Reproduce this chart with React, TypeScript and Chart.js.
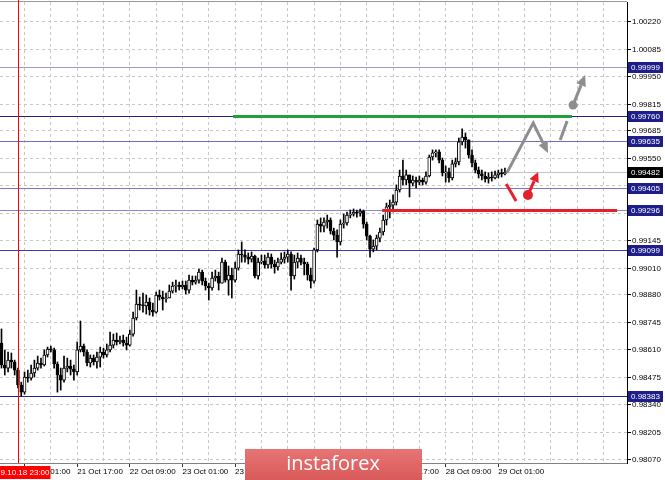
import React, { useEffect, useRef } from 'react';
import { Chart, registerables } from 'chart.js';

Chart.register(...registerables);

// ---- data (hourly bars, index 0 = first visible bar) ----
const firstOpen = 0.98644;
const closes = [
  0.98536, 0.98521, 0.98560, 0.98551, 0.98511, 0.98438, 0.98403, 0.98477, 0.98472, 0.98497,
  0.98521, 0.98546, 0.98536, 0.98585, 0.98614, 0.98610, 0.98541, 0.98487, 0.98462, 0.98521,
  0.98531, 0.98516, 0.98502, 0.98610, 0.98629, 0.98600, 0.98546, 0.98570, 0.98551, 0.98575,
  0.98600, 0.98585, 0.98610, 0.98634, 0.98659, 0.98649, 0.98659, 0.98644, 0.98634, 0.98688,
  0.98767, 0.98835, 0.98830, 0.98826, 0.98845, 0.98806, 0.98796, 0.98879, 0.98870, 0.98860,
  0.98865, 0.98899, 0.98924, 0.98929, 0.98919, 0.98929, 0.98904, 0.98953, 0.98943, 0.98953,
  0.98992, 0.98948, 0.98924, 0.98914, 0.98963, 0.98973, 0.98938, 0.99041, 0.98953, 0.98978,
  0.98953, 0.99012, 0.99081, 0.99076, 0.99066, 0.99056, 0.99071, 0.98973, 0.99041, 0.99046,
  0.99027, 0.99066, 0.99032, 0.99017, 0.99041, 0.99056, 0.99066, 0.99081, 0.98973, 0.99041,
  0.99061, 0.99041, 0.99032, 0.98978, 0.98948, 0.99101, 0.99228, 0.99218, 0.99238, 0.99248,
  0.99194, 0.99174, 0.99140, 0.99228, 0.99233, 0.99272, 0.99277, 0.99287, 0.99282, 0.99292,
  0.99228, 0.99169, 0.99105, 0.99120, 0.99159, 0.99189, 0.99248, 0.99312, 0.99321, 0.99336,
  0.99395, 0.99464, 0.99444, 0.99469, 0.99429, 0.99444, 0.99434, 0.99444, 0.99434, 0.99464,
  0.99557, 0.99577, 0.99582, 0.99542, 0.99479, 0.99484, 0.99454, 0.99523, 0.99533, 0.99631,
  0.99655, 0.99641, 0.99567, 0.99528, 0.99493, 0.99474, 0.99464, 0.99449, 0.99459, 0.99454,
  0.99469, 0.99479, 0.99474, 0.99482,
];
const highs = [
  0.98713, 0.98610, 0.98600, 0.98595, 0.98560, 0.98521, 0.98452, 0.98502, 0.98511, 0.98536,
  0.98560, 0.98580, 0.98570, 0.98610, 0.98624, 0.98629, 0.98619, 0.98551, 0.98521, 0.98580,
  0.98570, 0.98560, 0.98536, 0.98649, 0.98752, 0.98639, 0.98610, 0.98585, 0.98585, 0.98600,
  0.98624, 0.98619, 0.98639, 0.98698, 0.98688, 0.98693, 0.98678, 0.98683, 0.98673, 0.98708,
  0.98796, 0.98904, 0.98870, 0.98889, 0.98879, 0.98865, 0.98840, 0.98894, 0.98904, 0.98899,
  0.98889, 0.98929, 0.98943, 0.98953, 0.98943, 0.98948, 0.98948, 0.98978, 0.98973, 0.98973,
  0.99007, 0.99002, 0.98963, 0.98938, 0.98992, 0.99002, 0.98992, 0.99061, 0.99051, 0.99022,
  0.99012, 0.99041, 0.99101, 0.99140, 0.99101, 0.99086, 0.99091, 0.99076, 0.99061, 0.99076,
  0.99076, 0.99086, 0.99081, 0.99051, 0.99061, 0.99086, 0.99091, 0.99101, 0.99091, 0.99076,
  0.99086, 0.99076, 0.99061, 0.99041, 0.99012, 0.99110, 0.99248, 0.99258, 0.99258, 0.99272,
  0.99258, 0.99208, 0.99199, 0.99248, 0.99277, 0.99287, 0.99297, 0.99302, 0.99297, 0.99302,
  0.99297, 0.99238, 0.99174, 0.99150, 0.99174, 0.99208, 0.99272, 0.99331, 0.99346, 0.99371,
  0.99420, 0.99493, 0.99542, 0.99493, 0.99469, 0.99464, 0.99459, 0.99464, 0.99454, 0.99484,
  0.99567, 0.99592, 0.99592, 0.99592, 0.99552, 0.99513, 0.99503, 0.99542, 0.99552, 0.99650,
  0.99695, 0.99675, 0.99641, 0.99592, 0.99542, 0.99508, 0.99493, 0.99484, 0.99479, 0.99484,
  0.99488, 0.99493, 0.99498, 0.99503,
];
const lows = [
  0.98521, 0.98487, 0.98502, 0.98521, 0.98487, 0.98423, 0.98384, 0.98393, 0.98452, 0.98462,
  0.98477, 0.98511, 0.98521, 0.98531, 0.98575, 0.98600, 0.98521, 0.98403, 0.98413, 0.98452,
  0.98502, 0.98487, 0.98462, 0.98487, 0.98600, 0.98580, 0.98531, 0.98526, 0.98536, 0.98521,
  0.98526, 0.98570, 0.98575, 0.98600, 0.98619, 0.98634, 0.98639, 0.98629, 0.98610, 0.98629,
  0.98678, 0.98757, 0.98806, 0.98796, 0.98786, 0.98781, 0.98776, 0.98791, 0.98855, 0.98806,
  0.98845, 0.98865, 0.98889, 0.98894, 0.98904, 0.98909, 0.98884, 0.98889, 0.98929, 0.98933,
  0.98938, 0.98929, 0.98904, 0.98855, 0.98904, 0.98948, 0.98904, 0.98938, 0.98943, 0.98879,
  0.98865, 0.98943, 0.99002, 0.99041, 0.99041, 0.99032, 0.99041, 0.98963, 0.98958, 0.99032,
  0.99012, 0.99012, 0.99012, 0.98987, 0.99002, 0.99032, 0.99036, 0.99041, 0.98904, 0.98958,
  0.99012, 0.99027, 0.98978, 0.98953, 0.98914, 0.98938, 0.99091, 0.99189, 0.99189, 0.99208,
  0.99179, 0.99150, 0.99066, 0.99125, 0.99208, 0.99223, 0.99258, 0.99267, 0.99262, 0.99267,
  0.99208, 0.99150, 0.99066, 0.99091, 0.99101, 0.99140, 0.99174, 0.99223, 0.99258, 0.99287,
  0.99321, 0.99385, 0.99420, 0.99420, 0.99361, 0.99415, 0.99405, 0.99420, 0.99420, 0.99424,
  0.99459, 0.99542, 0.99557, 0.99528, 0.99464, 0.99434, 0.99434, 0.99444, 0.99508, 0.99518,
  0.99616, 0.99601, 0.99552, 0.99508, 0.99479, 0.99454, 0.99444, 0.99434, 0.99429, 0.99439,
  0.99449, 0.99454, 0.99459, 0.99469,
];

// axis ticks
const xLabelIndex = [7, 23, 39, 55, 71, 87, 103, 119, 135, 151];
const xLabels = [
  '21 Oct 01:00', '21 Oct 17:00', '22 Oct 09:00', '23 Oct 01:00', '23 Oct 17:00',
  '24 Oct 09:00', '25 Oct 01:00', '25 Oct 17:00', '28 Oct 09:00', '29 Oct 01:00',
];
const xGridIndex = [7, 15, 23, 31, 39, 47, 55, 63, 71, 79, 87, 95, 103, 111, 119, 127, 135, 143, 151, 159, 167, 175, 183];
const yTicks = [1.0022, 1.00085, 0.9995, 0.99815, 0.99685, 0.9955, 0.99415, 0.9928, 0.99145, 0.9901, 0.9888, 0.98745, 0.9861, 0.98475, 0.9834, 0.98205, 0.9807];
const yTickLabels = ['1.00220', '1.00085', '0.99950', '0.99815', '0.99685', '0.99550', '', '0.99280', '0.99145', '0.99010', '0.98880', '0.98745', '0.98610', '0.98475', '0.98340', '0.98205', '0.98070'];

// levels
const levels = [0.99999, 0.9976, 0.99635, 0.99405, 0.99296, 0.99099, 0.98383];
const levelColors = ['#9a9ad8', '#22227e', '#6f6fc2', '#7878c6', '#8888d0', '#3c3ca8', '#22229a'];
const currentPrice = 0.99482;
const markerIndex = 5;
const markerLabel = '19.10.18 23:00';

// forecast drawings: [barIndex, price]
const greenLevel = [[70.4, 0.9976], [173.4, 0.9976]];
const redLevel = [[115.7, 0.99296], [187.1, 0.99296]];
const grayPath = [[153.6, 0.99479], [161.6, 0.99724], [166.1, 0.99577]];
const graySegment = [[169.8, 0.99641], [171.9, 0.99734]];
const grayUpArrow = [[173.7, 0.99812], [177.4, 0.9996]];
const redSegment = [[153.4, 0.99424], [156.4, 0.99341]];
const redUpArrow = [[160.0, 0.99371], [163.1, 0.99484]];

const FONT = "'Liberation Sans', Arial, sans-serif";

function drawArrowHead(ctx: CanvasRenderingContext2D, x1: number, y1: number, x2: number, y2: number, head: number, half: number) {
  const ang = Math.atan2(y2 - y1, x2 - x1);
  const bx = x2 - Math.cos(ang) * head;
  const by = y2 - Math.sin(ang) * head;
  ctx.beginPath();
  ctx.moveTo(x2, y2);
  ctx.lineTo(bx + Math.sin(ang) * half, by - Math.cos(ang) * half);
  ctx.lineTo(bx - Math.sin(ang) * half, by + Math.cos(ang) * half);
  ctx.closePath();
  ctx.fill();
  return [bx, by];
}

const overlay = {
  id: 'overlay',
  beforeDatasetsDraw(chart: any) {
    const { ctx, chartArea: a, scales } = chart;
    const y = scales.y;
    ctx.save();
    ctx.lineWidth = 1;
    const cp = Math.round(y.getPixelForValue(currentPrice)) + 0.5;
    ctx.strokeStyle = '#c4c4c4';
    ctx.beginPath(); ctx.moveTo(a.left, cp); ctx.lineTo(a.right, cp); ctx.stroke();
    levels.forEach((v, k) => {
      const py = Math.round(y.getPixelForValue(v)) + 0.5;
      ctx.strokeStyle = levelColors[k];
      ctx.beginPath(); ctx.moveTo(a.left, py); ctx.lineTo(a.right, py); ctx.stroke();
    });
    ctx.restore();
  },
  afterDatasetsDraw(chart: any) {
    const { ctx, scales } = chart;
    const x = scales.x, y = scales.y;
    const P = (p: number[]) => [x.getPixelForValue(p[0]), y.getPixelForValue(p[1])];
    ctx.save();
    ctx.lineCap = 'butt';
    const seg = (s: number[][], color: string) => {
      const [x1, y1] = P(s[0]); const [x2] = P(s[1]);
      ctx.fillStyle = color;
      ctx.fillRect(x1, Math.round(y1) - 1, x2 - x1, 3);
    };
    seg(greenLevel, '#22a03c');
    seg(redLevel, '#e5202a');

    const gray = '#8e8e8e';
    const red = '#e5202a';
    ctx.lineWidth = 3;
    ctx.lineJoin = 'miter';
    {
      const pts = grayPath.map(P);
      ctx.fillStyle = gray; ctx.strokeStyle = gray;
      const n = pts.length;
      const [bx, by] = drawArrowHead(ctx, pts[n - 2][0], pts[n - 2][1], pts[n - 1][0], pts[n - 1][1], 11, 5);
      ctx.beginPath();
      ctx.moveTo(pts[0][0], pts[0][1]);
      for (let i = 1; i < n - 1; i++) ctx.lineTo(pts[i][0], pts[i][1]);
      ctx.lineTo(bx, by);
      ctx.stroke();
    }
    {
      const [a1, b1] = P(graySegment[0]); const [a2, b2] = P(graySegment[1]);
      ctx.strokeStyle = gray;
      ctx.beginPath(); ctx.moveTo(a1, b1); ctx.lineTo(a2, b2); ctx.stroke();
    }
    {
      const [a1, b1] = P(grayUpArrow[0]); const [a2, b2] = P(grayUpArrow[1]);
      ctx.fillStyle = gray; ctx.strokeStyle = gray;
      const [bx, by] = drawArrowHead(ctx, a1, b1, a2, b2, 11, 5);
      ctx.beginPath(); ctx.moveTo(a1, b1); ctx.lineTo(bx, by); ctx.stroke();
      ctx.beginPath(); ctx.arc(a1, b1, 4.5, 0, Math.PI * 2); ctx.fill();
    }
    {
      const [a1, b1] = P(redSegment[0]); const [a2, b2] = P(redSegment[1]);
      ctx.strokeStyle = red;
      ctx.beginPath(); ctx.moveTo(a1, b1); ctx.lineTo(a2, b2); ctx.stroke();
    }
    {
      const [a1, b1] = P(redUpArrow[0]); const [a2, b2] = P(redUpArrow[1]);
      ctx.fillStyle = red; ctx.strokeStyle = red;
      const [bx, by] = drawArrowHead(ctx, a1, b1, a2, b2, 10, 5);
      ctx.beginPath(); ctx.moveTo(a1, b1); ctx.lineTo(bx, by); ctx.stroke();
      ctx.beginPath(); ctx.arc(a1, b1, 5, 0, Math.PI * 2); ctx.fill();
    }
    ctx.restore();
  },
  afterDraw(chart: any) {
    const { ctx, chartArea: a, scales } = chart;
    const x = scales.x, y = scales.y;
    ctx.save();
    ctx.fillStyle = '#9a9a9a';
    ctx.fillRect(a.left, a.top - 1, a.right - a.left, 1);
    const mx = Math.round(x.getPixelForValue(markerIndex)) + 0.5;
    ctx.strokeStyle = '#ff0000'; ctx.lineWidth = 1;
    ctx.beginPath(); ctx.moveTo(mx, 0); ctx.lineTo(mx, a.bottom); ctx.stroke();
    ctx.font = `8px ${FONT}`;
    ctx.fillStyle = '#ff0000';
    ctx.fillRect(0, a.bottom + 3, mx + 32, 13);
    ctx.fillStyle = '#ffffff';
    ctx.textAlign = 'right'; ctx.textBaseline = 'middle';
    ctx.fillText(markerLabel, mx + 31, a.bottom + 10);
    const badge = (v: number, bg: string) => {
      const py = Math.round(y.getPixelForValue(v));
      ctx.fillStyle = bg;
      ctx.fillRect(a.right + 1, py - 5, 35, 11);
      ctx.fillStyle = '#ffffff';
      ctx.textAlign = 'left'; ctx.textBaseline = 'middle';
      ctx.fillText(v.toFixed(5), a.right + 4, py + 0.5);
    };
    levels.forEach((v) => badge(v, '#1e1e8a'));
    badge(currentPrice, '#000000');
    const g = ctx.createLinearGradient(0, 449, 0, 480);
    g.addColorStop(0, '#e77474');
    g.addColorStop(1, '#d95a5a');
    ctx.fillStyle = g;
    ctx.fillRect(245, 449, 177, 31);
    ctx.fillStyle = '#ffffff';
    ctx.font = "20px 'Open Sans', sans-serif";
    ctx.textAlign = 'center'; ctx.textBaseline = 'middle';
    ctx.fillText('instaforex', 333, 464);
    ctx.restore();
  },
};

export default function App() {
  const ref = useRef<HTMLCanvasElement | null>(null);
  useEffect(() => {
    document.body.style.margin = '0';
    const opens = closes.map((c, i) => (i === 0 ? firstOpen : closes[i - 1]));
    const zeroPad = (s: any) => { s.paddingTop = 0; s.paddingBottom = 0; s.paddingLeft = 0; s.paddingRight = 0; };
    const chart = new Chart(ref.current as HTMLCanvasElement, {
      type: 'bar',
      data: {
        datasets: [
          {
            type: 'bar',
            data: closes.map((c, i) => ({ x: i, y: [opens[i], c] })) as any,
            backgroundColor: closes.map((c, i) => (c >= opens[i] ? '#ffffff' : '#000000')),
            borderColor: '#000000',
            borderWidth: 1,
            borderSkipped: false,
            barThickness: 3,
            minBarLength: 1,
            grouped: false,
            order: 0,
          } as any,
          {
            type: 'bar',
            data: highs.map((h, i) => ({ x: i, y: [lows[i], h] })) as any,
            backgroundColor: '#000000',
            borderWidth: 0,
            barThickness: 1,
            grouped: false,
            order: 1,
          } as any,
        ],
      },
      options: {
        animation: false,
        responsive: false,
        events: [],
        layout: { padding: { top: 2, left: 0, right: 0, bottom: 0 } },
        plugins: { legend: { display: false }, tooltip: { enabled: false } },
        scales: {
          x: {
            type: 'linear',
            position: 'bottom',
            min: -0.456,
            max: 190.1,
            offset: false,
            afterBuildTicks: (s: any) => { s.ticks = xGridIndex.map((v) => ({ value: v })); },
            afterFit: (s: any) => { s.height = 17; zeroPad(s); },
            grid: {
              offset: false,
              color: '#c8c8c8',
              tickLength: 4,
              tickColor: (c: any) => (c.tick && xLabelIndex.includes(c.tick.value) ? '#333333' : 'rgba(0,0,0,0)'),
            },
            border: { color: '#808080', dash: [3, 3] },
            ticks: {
              autoSkip: false,
              maxRotation: 0,
              align: 'start',
              padding: 0,
              color: '#000000',
              font: { family: FONT, size: 8 },
              callback: (v: any) => {
                const k = xLabelIndex.indexOf(Number(v));
                return k >= 0 ? xLabels[k] : '';
              },
            },
          } as any,
          y: {
            type: 'linear',
            position: 'right',
            min: 0.98055,
            max: 1.00318,
            beginAtZero: false,
            afterBuildTicks: (s: any) => { s.ticks = yTicks.slice().reverse().map((v) => ({ value: v })); },
            afterFit: (s: any) => { s.width = 38; zeroPad(s); },
            grid: { color: '#c8c8c8', tickLength: 4, tickColor: '#000000' },
            border: { color: '#000000', dash: [3, 3] },
            ticks: {
              autoSkip: false,
              padding: 1,
              color: '#000000',
              font: { family: FONT, size: 8 },
              callback: (v: any) => {
                const k = yTicks.findIndex((t) => Math.abs(t - Number(v)) < 1e-7);
                return k >= 0 ? yTickLabels[k] : '';
              },
            },
          } as any,
        },
      },
      plugins: [overlay],
    });
    return () => chart.destroy();
  }, []);
  return <canvas ref={ref} width={665} height={480} style={{ display: 'block' }} />;
}
